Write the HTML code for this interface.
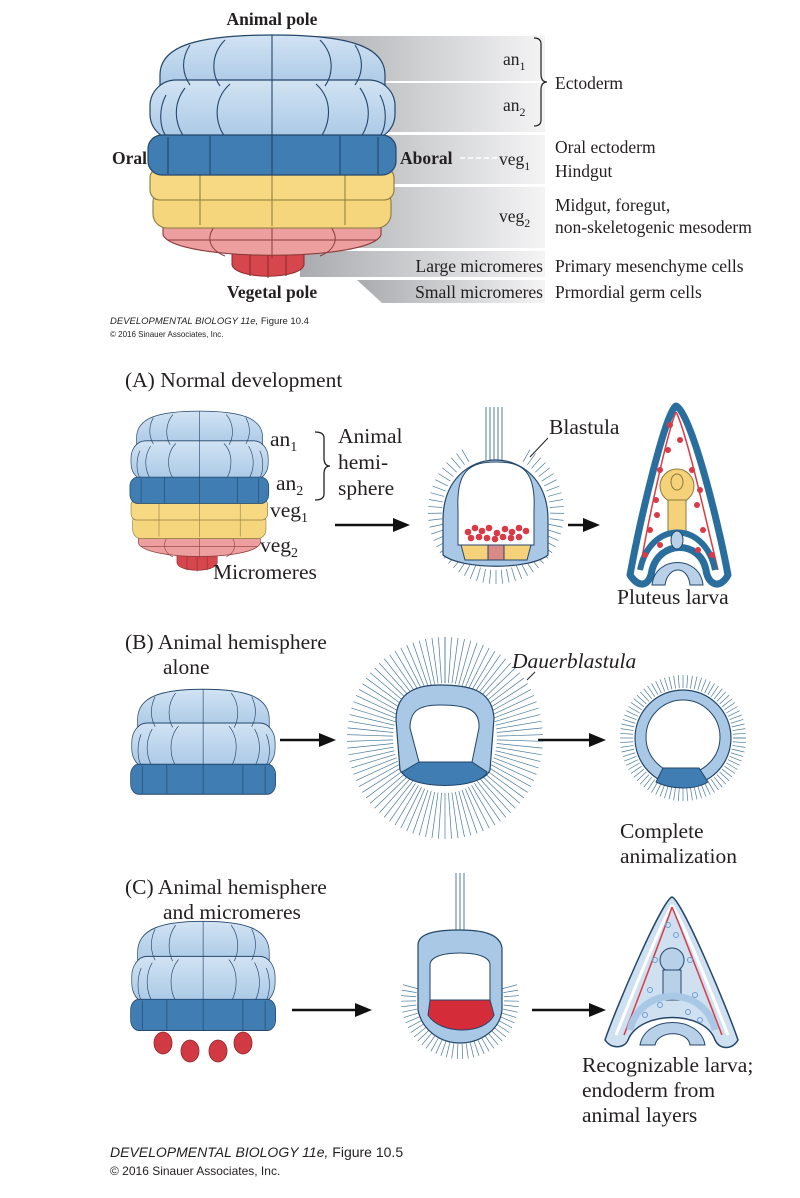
<!DOCTYPE html>
<html><head><meta charset="utf-8"><style>
html,body{margin:0;padding:0;background:#fff;width:800px;height:1198px;overflow:hidden}
svg{display:block}
text{font-family:"Liberation Serif",serif;fill:#231f20}
.s{font-family:"Liberation Sans",sans-serif}
</style></head><body>
<svg width="800" height="1198" viewBox="0 0 800 1198" xmlns="http://www.w3.org/2000/svg">
<defs>
<linearGradient id="gr" x1="0" x2="1"><stop offset="0" stop-color="#a9abae"/><stop offset="0.5" stop-color="#cfd0d2"/><stop offset="1" stop-color="#f4f4f5"/></linearGradient>
<linearGradient id="lb" x1="0" y1="0" x2="0" y2="1"><stop offset="0" stop-color="#d2e3f3"/><stop offset="1" stop-color="#a9c8e6"/></linearGradient>
<g id="anim">
  <path d="M160 75C160 45 200 35 272 35C345 35 385 45 385 75V88H160Z" fill="url(#lb)" stroke="#24466a" stroke-width="1.2"/>
  <rect x="150" y="80" width="245" height="60" rx="26" fill="url(#lb)" stroke="#24466a" stroke-width="1.2"/>
  <path d="M272 35V140M225 40C210 55 212 75 220 86M320 40C335 55 333 75 325 86M190 45C180 60 183 75 190 85M355 45C365 60 362 75 355 85M230 84C212 100 215 125 226 138M316 84C334 100 330 125 320 138M185 88C172 105 175 125 185 138M360 88C372 105 370 125 360 138M166 95C158 110 160 128 166 136M380 95C388 110 386 128 380 136" fill="none" stroke="#24466a" stroke-width="1.1"/>
  <rect x="148" y="135" width="248" height="40" rx="14" fill="#3f7db3" stroke="#24466a" stroke-width="1.2"/>
  <path d="M272 135V175M210 136V175M340 136V175M168 137V174M378 137V174" stroke="#24466a" stroke-width="1.1"/>
</g>
<g id="veg">
  <path d="M232 250H304V265C300 280 236 280 232 265Z" fill="#d6474d" stroke="#8a2a2d"/>
  <path d="M250 250V276M268 250V278M286 250V276" stroke="#8a2a2d"/>
  <path d="M163 225H381V235C370 262 175 262 163 235Z" fill="#ec9f9e" stroke="#8a3a3a" stroke-width="1.1"/>
  <path d="M168 240H376M272 225V258M215 226C205 238 210 250 225 256M330 226C340 238 335 250 320 256" fill="none" stroke="#8a3a3a" stroke-width="1"/>
  <rect x="153" y="188" width="238" height="40" rx="14" fill="#f6d67d" stroke="#8a7a3a" stroke-width="1.1"/>
  <rect x="150" y="168" width="244" height="32" rx="10" fill="#f7d983" stroke="#8a7a3a" stroke-width="1.1"/>
  <path d="M272 168V226M200 170V225M345 170V225" stroke="#8a7a3a" stroke-width="1"/>
</g>
</defs>

<rect x="300" y="36" width="245" height="45" fill="url(#gr)"/>
<rect x="300" y="83" width="245" height="49" fill="url(#gr)"/>
<rect x="300" y="135" width="245" height="49" fill="url(#gr)"/>
<rect x="300" y="187" width="245" height="61" fill="url(#gr)"/>
<rect x="300" y="251" width="245" height="26" fill="url(#gr)"/>
<polygon points="357,280 545,280 545,303 382,303" fill="url(#gr)"/>

<use href="#veg"/>
<use href="#anim"/>

<text x="272" y="25" text-anchor="middle" font-size="17.5" font-weight="bold">Animal pole</text>
<text x="272" y="298" text-anchor="middle" font-size="17.5" font-weight="bold">Vegetal pole</text>
<text x="112" y="164" font-size="17.5" font-weight="bold">Oral</text>
<text x="400" y="164" font-size="17.5" font-weight="bold">Aboral</text>
<line x1="460" y1="158" x2="498" y2="158" stroke="#fff" stroke-width="1.5" stroke-dasharray="5,3"/>
<text x="503" y="65" font-size="17.5">an<tspan font-size="12" dy="5">1</tspan></text>
<text x="503" y="111" font-size="17.5">an<tspan font-size="12" dy="5">2</tspan></text>
<text x="499" y="165" font-size="17.5">veg<tspan font-size="12" dy="5">1</tspan></text>
<text x="499" y="222" font-size="17.5">veg<tspan font-size="12" dy="5">2</tspan></text>
<text x="543" y="272" text-anchor="end" font-size="17.5">Large micromeres</text>
<text x="543" y="298" text-anchor="end" font-size="17.5">Small micromeres</text>
<path d="M534 38q7 0 7 6v30q0 8 6 8q-6 0 -6 8v30q0 6 -7 6" fill="none" stroke="#231f20" stroke-width="1.2"/>
<text x="555" y="89" font-size="17.5">Ectoderm</text>
<text x="555" y="153" font-size="17.5">Oral ectoderm</text>
<text x="555" y="177" font-size="17.5">Hindgut</text>
<text x="555" y="211" font-size="17.5">Midgut, foregut,</text>
<text x="555" y="233" font-size="17.5">non-skeletogenic mesoderm</text>
<text x="555" y="272" font-size="17.5">Primary mesenchyme cells</text>
<text x="555" y="298" font-size="17.5">Prmordial germ cells</text>
<text x="110" y="324" class="s" font-size="9.5" font-style="italic">DEVELOPMENTAL BIOLOGY 11e, <tspan font-style="normal">Figure 10.4</tspan></text>
<text x="110" y="337" class="s" font-size="8">© 2016 Sinauer Associates, Inc.</text>

<!-- A -->
<text x="125" y="387" font-size="21.5">(A)  Normal development</text>
<g transform="translate(47,388) scale(0.56,0.66)"><use href="#veg"/><use href="#anim"/></g>
<text x="270" y="446" font-size="21.5">an<tspan font-size="14" dy="5">1</tspan></text>
<text x="276" y="490" font-size="21.5">an<tspan font-size="14" dy="5">2</tspan></text>
<text x="270" y="517" font-size="21.5">veg<tspan font-size="14" dy="5">1</tspan></text>
<text x="260" y="552" font-size="21.5">veg<tspan font-size="14" dy="5">2</tspan></text>
<text x="213" y="579" font-size="21.5">Micromeres</text>
<path d="M315 432q9 0 9 6v20q0 8 6 8q-6 0 -6 8v20q0 6 -9 6" fill="none" stroke="#231f20" stroke-width="1.3"/>
<text x="338" y="443" font-size="21.5">Animal</text>
<text x="338" y="469" font-size="21.5">hemi-</text>
<text x="338" y="495" font-size="21.5">sphere</text>
<g stroke="#111" stroke-width="2.5"><line x1="335" y1="525" x2="395" y2="525"/><line x1="568" y1="525" x2="585" y2="525"/><line x1="280" y1="740" x2="320" y2="740"/><line x1="538" y1="740" x2="590" y2="740"/><line x1="292" y1="1010" x2="355" y2="1010"/><line x1="532" y1="1010" x2="590" y2="1010"/></g>
<g fill="#111"><polygon points="410,525 393,518 393,532"/><polygon points="600,525 583,518 583,532"/><polygon points="336,740 319,733 319,747"/><polygon points="606,740 589,733 589,747"/><polygon points="372,1010 355,1003 355,1017"/><polygon points="606,1010 589,1003 589,1017"/></g>

<g id="cil" stroke="#4a7a9a" stroke-width="0.7"></g>

<g stroke="#3d6f91" stroke-width="0.9"><path d="M486 407V460M490 407V460M494 407V460M498 407V460M502 407V460"/></g>
<path d="M443 520C443 440 548 440 548 520V555C530 570 462 570 443 555Z" fill="#a9c8e6" stroke="#24466a" stroke-width="1.2"/>
<path d="M458 510C456 470 470 462 496 462C522 462 536 470 534 510V545H458Z" fill="#fff" stroke="#24466a"/>
<path d="M461 545L465 560H488V545ZM504 545V560H527L531 545Z" fill="#f5d27a" stroke="#24466a"/>
<rect x="488" y="545" width="16" height="15" fill="#d98a86" stroke="#24466a"/>
<g fill="#d93a45"><circle cx="468" cy="532" r="3.3"/><circle cx="475" cy="528" r="3.3"/><circle cx="482" cy="531" r="3.3"/><circle cx="489" cy="528" r="3.3"/><circle cx="497" cy="533" r="3.3"/><circle cx="505" cy="529" r="3.3"/><circle cx="512" cy="532" r="3.3"/><circle cx="519" cy="528" r="3.3"/><circle cx="526" cy="531" r="3.3"/><circle cx="471" cy="538" r="3.3"/><circle cx="479" cy="537" r="3.3"/><circle cx="487" cy="538" r="3.3"/><circle cx="495" cy="539" r="3.3"/><circle cx="503" cy="537" r="3.3"/><circle cx="511" cy="538" r="3.3"/><circle cx="519" cy="537" r="3.3"/></g>
<line x1="530" y1="457" x2="548" y2="438" stroke="#231f20"/>
<text x="549" y="434" font-size="21.5">Blastula</text>

<path d="M676 406C666 410 640 520 630 575C640 590 650 585 652 570C660 540 700 540 706 570C708 585 720 590 728 575C718 520 690 410 676 406Z" fill="#fff" stroke="#2a6e9e" stroke-width="7" stroke-linejoin="round"/>
<path d="M676 412C668 430 648 520 640 570M676 412C686 430 706 520 718 570" fill="none" stroke="#d93a45" stroke-width="1.5"/>
<circle cx="677" cy="486" r="17" fill="#f5d27a" stroke="#8a7a3a"/>
<ellipse cx="677" cy="482" rx="6" ry="8" fill="#f5d27a" stroke="#8a7a3a"/>
<rect x="668" y="500" width="18" height="32" fill="#f5d27a" stroke="#8a7a3a"/>
<path d="M640 570C650 520 705 520 715 570" fill="none" stroke="#2a6e9e" stroke-width="6"/>
<path d="M652 585C655 555 700 555 703 585H690C688 565 668 565 665 585Z" fill="#b8d1e8" stroke="#24466a"/>
<ellipse cx="677" cy="540" rx="6" ry="9" fill="#b8d1e8" stroke="#24466a"/>
<g fill="#d93a45"><circle cx="670" cy="425" r="3"/><circle cx="680" cy="440" r="3"/><circle cx="668" cy="450" r="3"/><circle cx="660" cy="470" r="3"/><circle cx="692" cy="470" r="3"/><circle cx="656" cy="500" r="3"/><circle cx="697" cy="505" r="3"/><circle cx="650" cy="530" r="3"/><circle cx="703" cy="530" r="3"/><circle cx="660" cy="545" r="3"/><circle cx="698" cy="550" r="3"/><circle cx="645" cy="555" r="3"/><circle cx="712" cy="555" r="3"/><circle cx="657" cy="515" r="3"/><circle cx="700" cy="490" r="3"/></g>
<text x="617" y="604" font-size="21.5">Pluteus larva</text>

<!-- B -->
<text x="125" y="649" font-size="21.5">(B)  Animal hemisphere</text>
<text x="163" y="674" font-size="21.5">alone</text>
<g transform="translate(44,663) scale(0.585,0.75)"><use href="#anim"/></g>
<path d="M396 720C396 690 420 685 440 685C470 685 492 690 494 718L490 770C482 790 410 790 400 770Z" fill="#a9c8e6" stroke="#24466a" stroke-width="1.2"/>
<path d="M410 728C410 710 420 705 440 705C468 705 480 710 479 728L472 762H419Z" fill="#fff" stroke="#24466a"/>
<path d="M402 772L419 762H472L487 772C480 790 410 790 402 772Z" fill="#3f7db3" stroke="#24466a"/>
<line x1="527" y1="680" x2="535" y2="672" stroke="#231f20"/>
<text x="512" y="668" font-size="21.5" font-style="italic">Dauerblastula</text>
<circle cx="683" cy="738" r="48" fill="#a9c8e6" stroke="#24466a" stroke-width="1.2"/>
<circle cx="683" cy="737" r="37" fill="#fff" stroke="#24466a"/>
<path d="M663 768L699 768L708 782C695 790 672 790 656 782Z" fill="#3f7db3" stroke="#24466a"/>
<text x="620" y="838" font-size="21.5">Complete</text>
<text x="620" y="863" font-size="21.5">animalization</text>

<!-- C -->
<text x="125" y="894" font-size="21.5">(C)  Animal hemisphere</text>
<text x="163" y="919" font-size="21.5">and micromeres</text>
<g transform="translate(44,894) scale(0.585,0.78)"><use href="#anim"/></g>
<g fill="#d13a42" stroke="#8a2a2d" stroke-width="0.8"><ellipse cx="163" cy="1043" rx="9" ry="11"/><ellipse cx="190" cy="1051" rx="9" ry="11"/><ellipse cx="218" cy="1051" rx="9" ry="11"/><ellipse cx="243" cy="1043" rx="9" ry="11"/></g>
<g stroke="#3d6f91" stroke-width="0.9"><path d="M456 873V930M460 873V930M464 873V930"/></g>
<path d="M418 945C418 932 440 930 460 930C480 930 500 933 502 948V1010C500 1030 480 1043 460 1043C440 1043 422 1030 418 1010Z" fill="#a9c8e6" stroke="#24466a" stroke-width="1.2"/>
<path d="M430 965C430 958 440 953 460 953C480 953 490 958 490 965V1005H430Z" fill="#fff" stroke="#24466a"/>
<path d="M430 1000L490 1000L494 1015C485 1035 440 1035 428 1015Z" fill="#d52c3a" stroke="#24466a"/>
<path d="M672 897C662 900 615 1010 605 1040C612 1050 625 1048 628 1040C640 1010 705 1010 715 1040C720 1050 732 1050 738 1040C728 1010 682 900 672 897Z" fill="#cfe0f0" stroke="#24466a" stroke-width="1.5"/>
<path d="M672 905C660 925 622 1020 616 1035M672 905C685 925 722 1020 728 1035" fill="none" stroke="#fff" stroke-width="3"/>
<path d="M672 907C664 930 630 1020 624 1035M672 907C682 930 716 1020 722 1035" fill="none" stroke="#d93a45" stroke-width="1.5"/>
<circle cx="672" cy="960" r="12" fill="#b8d1e8" stroke="#24466a"/>
<rect x="663" y="970" width="18" height="30" fill="#b8d1e8" stroke="#24466a"/>
<path d="M630 1030C640 985 705 985 715 1030" fill="none" stroke="#a9c8e6" stroke-width="7"/>
<path d="M640 1045C645 1015 700 1015 705 1045H690C688 1030 658 1030 655 1045Z" fill="#b8d1e8" stroke="#24466a"/>
<g fill="none" stroke="#6a9fd0" stroke-width="1"><circle cx="668" cy="925" r="2.5"/><circle cx="676" cy="935" r="2.5"/><circle cx="655" cy="960" r="2.5"/><circle cx="690" cy="960" r="2.5"/><circle cx="650" cy="990" r="2.5"/><circle cx="695" cy="995" r="2.5"/><circle cx="660" cy="1005" r="2.5"/><circle cx="688" cy="1012" r="2.5"/><circle cx="645" cy="1015" r="2.5"/><circle cx="700" cy="1020" r="2.5"/></g>
<text x="582" y="1072" font-size="21.5">Recognizable larva;</text>
<text x="582" y="1097" font-size="21.5">endoderm from</text>
<text x="582" y="1122" font-size="21.5">animal layers</text>

<text x="110" y="1157" class="s" font-size="14" font-style="italic">DEVELOPMENTAL BIOLOGY 11e, <tspan font-style="normal">Figure 10.5</tspan></text>
<text x="110" y="1175" class="s" font-size="12">© 2016 Sinauer Associates, Inc.</text>
</svg>
<script>
(function(){
var g=document.getElementById('cil'),s='';
function ring(cx,cy,rx,ry,len,a0,a1,n){for(var i=0;i<n;i++){var a=(a0+(a1-a0)*i/(n-1))*Math.PI/180;var c=Math.cos(a),si=Math.sin(a);
s+='<line x1="'+(cx+rx*c)+'" y1="'+(cy+ry*si)+'" x2="'+(cx+(rx+len)*c)+'" y2="'+(cy+(ry+len)*si)+'"/>';}}
ring(496,512,54,58,14,-60,240,55);
ring(445,738,52,55,46,-90,270,95);
ring(683,738,50,50,13,0,360,85);
ring(460,1000,44,44,15,-15,195,40);
g.innerHTML=s;
})();
</script>
</body></html>
